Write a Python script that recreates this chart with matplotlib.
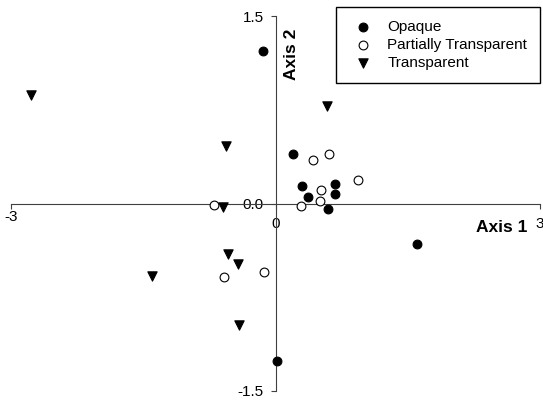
import matplotlib
matplotlib.use('Agg')
import matplotlib.pyplot as plt

plt.rcParams['font.family'] = ['Liberation Sans', 'DejaVu Sans']
plt.rcParams['font.size'] = 11

# ordination scores
opaque_x = [-0.145, 0.20, 0.297, 0.675, 0.675, 0.365, 0.60, 1.60, 0.02]
opaque_y = [1.22, 0.40, 0.142, 0.154, 0.08, 0.05, -0.04, -0.32, -1.26]
partial_x = [-0.70, 0.43, 0.607, 0.94, 0.52, 0.50, 0.29, -0.127, -0.587]
partial_y = [-0.01, 0.35, 0.40, 0.19, 0.108, 0.02, -0.02, -0.548, -0.59]
transp_x = [-2.77, -0.565, -0.60, 0.584, -0.535, -0.43, -1.40, -0.417]
transp_y = [0.868, 0.462, -0.03, 0.78, -0.404, -0.484, -0.577, -0.972]

xticks = [-3, 0, 3]
yticks = [-1.5, 0, 1.5]

fig = plt.figure(figsize=(5.43, 4.03), dpi=100)
ax = fig.add_axes([11/543, 12/403, 529/543, 375/403])
ax.set_xlim(-3, 3)
ax.set_ylim(-1.5, 1.5)

axcol = '#404040'
for side in ['top', 'right']:
    ax.spines[side].set_visible(False)
ax.spines['left'].set_position(('data', 0))
ax.spines['bottom'].set_position(('data', 0))
ax.spines['left'].set_color(axcol)
ax.spines['bottom'].set_color(axcol)

ax.set_xticks(xticks)
ax.set_xticklabels(['', '0', '3'])
ax.set_yticks(yticks)
ax.set_yticklabels(['-1.5', '0.0', '1.5'])
ax.tick_params(axis='x', direction='out', length=3.5, pad=6, color=axcol, labelsize=11)
ax.tick_params(axis='y', direction='out', length=3.5, pad=5, color=axcol, labelsize=11)
ax.text(-3, -0.055, '-3', ha='center', va='top', fontsize=11)

ax.scatter(opaque_x, opaque_y, s=40, marker='o', c='black', edgecolors='black',
           linewidths=0.8, label='Opaque', zorder=3)
ax.scatter(partial_x, partial_y, s=40, marker='o', c='white', edgecolors='black',
           linewidths=0.8, label='Partially Transparent', zorder=3)
ax.scatter(transp_x, transp_y, s=45, marker='v', c='black', edgecolors='black',
           linewidths=0.8, label='Transparent', zorder=3)

ax.text(2.86, -0.19, 'Axis 1', ha='right', va='center', fontsize=12.5, fontweight='bold')
ax.text(0.18, 1.19, 'Axis 2', ha='center', va='center', rotation=90,
        fontsize=12.5, fontweight='bold')

leg = ax.legend(loc='upper right', bbox_to_anchor=(1.0, 1.025), fontsize=11,
                frameon=True, fancybox=False, edgecolor='black', framealpha=1,
                handletextpad=0.7, labelspacing=0.27, borderpad=0.85,
                handlelength=1.8, borderaxespad=0)
leg.get_frame().set_linewidth(1.0)

fig.savefig('out.png', dpi=100)
